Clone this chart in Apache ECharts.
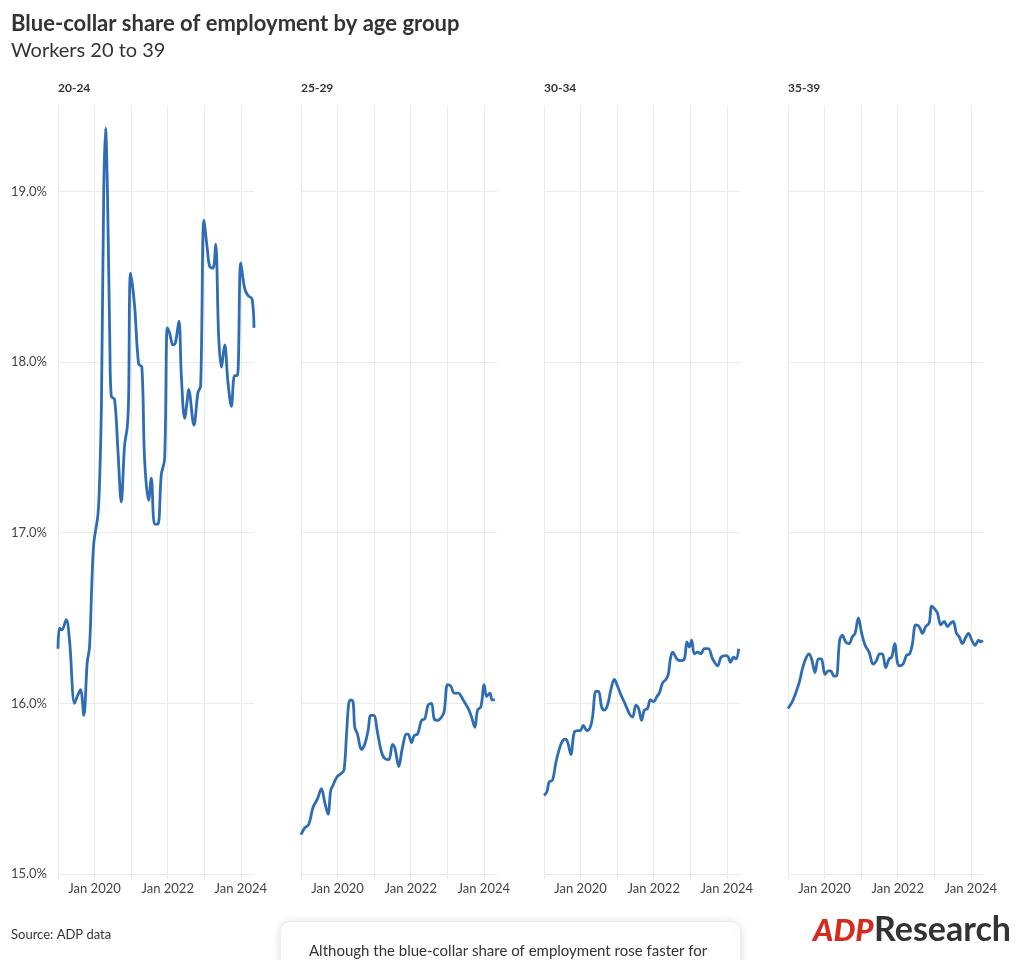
<!DOCTYPE html>
<html>
<head>
<meta charset="utf-8">
<script src="https://cdn.jsdelivr.net/npm/echarts@6/dist/echarts.min.js"></script>
<style>
html,body{margin:0;padding:0;background:#fff;}
#chart{width:1020px;height:960px;}
</style>
</head>
<body>
<div id="chart"></div>
<script>
// ---------- DATA ----------
const panelNames = ['20-24', '25-29', '30-34', '35-39'];
const xTickLabels = ['Jan 2020', 'Jan 2022', 'Jan 2024'];
const yTickValues = [15, 16, 17, 18, 19];

const dates20_24 = ['2019-01-01','2019-01-16','2019-02-08','2019-03-24','2019-04-26','2019-06-15','2019-07-12','2019-08-14','2019-09-16','2019-10-20','2019-11-12','2019-12-05','2019-12-25','2020-02-03','2020-02-20','2020-03-10','2020-04-02','2020-04-20','2020-05-09','2020-06-02','2020-06-16','2020-07-19','2020-08-21','2020-09-24','2020-10-27','2020-11-23','2020-12-06','2020-12-26','2021-02-04','2021-03-16','2021-04-18','2021-05-15','2021-06-24','2021-07-21','2021-08-23','2021-09-25','2021-10-29','2021-12-01','2021-12-28','2022-01-20','2022-02-22','2022-03-18','2022-04-23','2022-05-17','2022-06-19','2022-07-16','2022-07-29','2022-09-20','2022-10-30','2022-11-26','2022-12-29','2023-02-01','2023-02-24','2023-03-29','2023-04-25','2023-05-25','2023-06-21','2023-07-24','2023-08-26','2023-09-29','2023-10-31','2023-11-28','2024-01-01','2024-02-09','2024-03-13','2024-04-22','2024-05-12'];
const values20_24 = [16.32,16.44,16.43,16.49,16.37,16.00,16.04,16.08,15.93,16.24,16.33,16.70,16.94,17.10,17.29,17.76,19.00,19.37,19.00,18.10,17.80,17.78,17.49,17.18,17.51,17.62,17.78,18.52,18.33,17.99,17.97,17.43,17.19,17.32,17.05,17.05,17.34,17.43,18.20,18.17,18.10,18.11,18.24,17.92,17.67,17.78,17.84,17.63,17.82,17.86,18.83,18.66,18.56,18.55,18.69,18.15,17.97,18.10,17.88,17.74,17.92,17.92,18.58,18.43,18.39,18.37,18.20];

const dates25_29 = ['2019-01-01','2019-02-07','2019-03-19','2019-05-01','2019-06-14','2019-07-24','2019-08-26','2019-09-28','2019-10-25','2019-11-17','2019-12-27','2020-02-09','2020-03-06','2020-03-30','2020-04-22','2020-05-12','2020-06-04','2020-06-21','2020-07-18','2020-08-27','2020-09-29','2020-11-01','2020-11-28','2020-12-28','2021-02-03','2021-03-08','2021-04-10','2021-05-27','2021-07-03','2021-07-26','2021-09-04','2021-10-07','2021-11-20','2021-12-06','2022-01-09','2022-02-04','2022-03-10','2022-04-19','2022-05-22','2022-06-24','2022-07-28','2022-08-23','2022-09-26','2022-11-05','2022-12-01','2023-01-04','2023-02-06','2023-03-11','2023-04-20','2023-06-09','2023-07-29','2023-09-01','2023-10-04','2023-10-31','2023-12-03','2024-01-05','2024-01-29','2024-03-02','2024-03-25','2024-04-21'];
const values25_29 = [15.23,15.27,15.29,15.39,15.44,15.50,15.42,15.35,15.49,15.52,15.57,15.59,15.61,15.81,16.00,16.02,16.01,15.86,15.82,15.73,15.76,15.84,15.93,15.93,15.83,15.73,15.68,15.67,15.76,15.74,15.63,15.73,15.82,15.82,15.77,15.81,15.82,15.90,15.91,15.99,16.00,15.91,15.90,15.92,15.95,16.11,16.10,16.06,16.06,16.02,15.97,15.92,15.86,15.96,15.98,16.11,16.04,16.06,16.02,16.02];

const dates30_34 = ['2019-01-01','2019-01-29','2019-02-22','2019-03-27','2019-04-29','2019-06-02','2019-07-05','2019-08-07','2019-08-31','2019-09-26','2019-10-30','2019-12-02','2019-12-29','2020-01-28','2020-03-04','2020-04-07','2020-04-30','2020-06-02','2020-06-29','2020-07-29','2020-08-25','2020-09-27','2020-10-30','2020-12-03','2021-01-05','2021-02-07','2021-03-19','2021-05-02','2021-06-04','2021-07-07','2021-08-03','2021-09-02','2021-09-29','2021-11-01','2021-11-28','2021-12-31','2022-02-02','2022-02-26','2022-03-31','2022-05-03','2022-05-27','2022-06-16','2022-07-09','2022-08-21','2022-09-24','2022-11-03','2022-11-29','2022-12-23','2023-01-15','2023-02-11','2023-03-16','2023-04-18','2023-05-22','2023-07-01','2023-08-13','2023-10-02','2023-11-04','2023-12-24','2024-01-17','2024-02-06','2024-03-10','2024-04-02','2024-04-29'];
const values30_34 = [15.46,15.48,15.54,15.55,15.65,15.73,15.78,15.79,15.76,15.70,15.83,15.84,15.84,15.87,15.84,15.86,15.92,16.07,16.07,15.98,15.96,15.99,16.08,16.14,16.10,16.05,16.00,15.94,15.92,15.99,15.97,15.90,15.96,15.97,16.02,16.01,16.04,16.06,16.12,16.14,16.17,16.26,16.30,16.26,16.25,16.26,16.36,16.33,16.37,16.29,16.30,16.29,16.32,16.32,16.26,16.22,16.27,16.28,16.27,16.24,16.27,16.26,16.32];

const dates35_39 = ['2019-01-01','2019-02-13','2019-03-25','2019-04-27','2019-05-24','2019-06-26','2019-07-30','2019-08-25','2019-09-28','2019-10-31','2019-11-30','2020-01-06','2020-02-08','2020-03-02','2020-04-05','2020-04-28','2020-05-31','2020-06-27','2020-07-30','2020-09-02','2020-10-05','2020-11-01','2020-12-04','2021-01-06','2021-02-09','2021-03-21','2021-04-30','2021-06-02','2021-07-05','2021-08-01','2021-09-03','2021-10-07','2021-11-02','2021-12-02','2021-12-29','2022-01-21','2022-02-24','2022-03-29','2022-05-01','2022-05-28','2022-06-30','2022-08-03','2022-09-05','2022-10-08','2022-11-11','2022-12-07','2023-01-10','2023-02-02','2023-03-07','2023-04-10','2023-05-13','2023-06-15','2023-07-09','2023-08-11','2023-09-07','2023-10-10','2023-11-06','2023-12-09','2024-01-11','2024-02-14','2024-03-18','2024-04-10','2024-04-29'];
const values35_39 = [15.97,16.01,16.07,16.13,16.20,16.26,16.29,16.26,16.18,16.26,16.26,16.17,16.19,16.19,16.16,16.16,16.37,16.40,16.36,16.35,16.39,16.41,16.50,16.41,16.34,16.30,16.23,16.25,16.29,16.29,16.21,16.26,16.27,16.35,16.24,16.22,16.23,16.28,16.29,16.35,16.46,16.45,16.41,16.45,16.47,16.57,16.55,16.53,16.46,16.48,16.45,16.47,16.48,16.41,16.39,16.35,16.38,16.41,16.37,16.34,16.37,16.36,16.37];

const xMin = '2019-01-01';
const xMax = '2024-05-12';
const yMin = 15, yMax = 19.5;

// ---------- BUILD ----------
const allDates = [dates20_24, dates25_29, dates30_34, dates35_39];
const allValues = [values20_24, values25_29, values30_34, values35_39];

const FONT = 'Lato';
const lefts = [58, 301, 544, 788];
const gridW = 196;
const gridTop = 106, gridBottomY = 874;
const YEAR = 365 * 24 * 3600 * 1000;

const grids = [], xAxes = [], yAxes = [], series = [], titles = [];

titles.push({
  text: 'Blue-collar share of employment by age group',
  left: 6, top: 8,
  textStyle: {fontFamily: FONT, fontSize: 22, fontWeight: 'bold', color: '#333'}
});
titles.push({
  text: 'Workers 20 to 39',
  left: 6, top: 36,
  textStyle: {fontFamily: FONT, fontSize: 20, fontWeight: 'normal', color: '#333'}
});
titles.push({
  text: 'Source: ADP data',
  left: 6, top: 923,
  textStyle: {fontFamily: FONT, fontSize: 13, fontWeight: 'normal', color: '#333'}
});

for (let i = 0; i < 4; i++) {
  grids.push({left: lefts[i], width: gridW, top: gridTop, height: gridBottomY - gridTop, containLabel: false});
  titles.push({
    text: panelNames[i], left: lefts[i] - 5, top: 77,
    textStyle: {fontFamily: FONT, fontSize: 12, fontWeight: 'bold', color: '#333'}
  });
  xAxes.push({
    type: 'time', gridIndex: i, min: xMin, max: xMax,
    minInterval: YEAR, maxInterval: YEAR + 2 * 24 * 3600 * 1000,
    axisLine: {show: false},
    axisTick: {show: true, length: 5, lineStyle: {color: '#e8e8e8'}},
    splitLine: {show: true, showMaxLine: false, lineStyle: {color: '#ebebeb', width: 1}},
    axisLabel: {
      show: true, margin: 8, fontFamily: FONT, fontSize: 13, color: '#444',
      hideOverlap: false, showMaxLabel: false,
      formatter: function (value) {
        const d = new Date(value);
        if (d.getMonth() === 0 && d.getDate() === 1) {
          const lbl = 'Jan ' + d.getFullYear();
          return xTickLabels.indexOf(lbl) >= 0 ? lbl : '';
        }
        return '';
      }
    }
  });
  yAxes.push({
    type: 'value', gridIndex: i, min: yMin, max: yMax, interval: 1,
    axisLine: {show: false}, axisTick: {show: false},
    splitLine: {show: true, showMaxLine: false, lineStyle: {color: '#ebebeb', width: 1}},
    axisLabel: {
      show: i === 0, showMaxLabel: false, margin: 11, fontFamily: FONT, fontSize: 13, color: '#444',
      formatter: function (v) { return yTickValues.indexOf(v) >= 0 ? v.toFixed(1) + '%' : ''; }
    }
  });
  series.push({
    type: 'line', xAxisIndex: i, yAxisIndex: i,
    data: allDates[i].map((d, k) => [d, allValues[i][k]]),
    showSymbol: false, smooth: 0.35,
    lineStyle: {color: '#2e6db4', width: 2.8},
    itemStyle: {color: '#2e6db4'},
    clip: true, animation: false
  });
}

const option = {
  backgroundColor: '#ffffff',
  animation: false,
  title: titles,
  grid: grids,
  xAxis: xAxes,
  yAxis: yAxes,
  series: series,
  graphic: [
    {
      type: 'rect', left: 280, top: 921, z: 10,
      shape: {width: 460, height: 60, r: 9},
      style: {fill: '#fff', stroke: '#eeeeee', lineWidth: 1, shadowBlur: 10, shadowColor: 'rgba(0,0,0,0.12)', shadowOffsetY: 1}
    },
    {
      type: 'text', left: 309, top: 944, z: 11,
      style: {text: 'Although the blue-collar share of employment rose faster for', fontFamily: FONT, fontSize: 15, fill: '#333'}
    },
    {
      type: 'text', left: 813, top: 915, z: 11,
      style: {text: 'ADP', fontFamily: FONT, fontSize: 31, fontWeight: 900, fontStyle: 'italic', fill: '#d42b1e'}
    },
    {
      type: 'text', left: 874, top: 913, z: 11,
      style: {text: 'Research', fontFamily: FONT, fontSize: 34, fontWeight: 'bold', fill: '#333'}
    }
  ]
};

const chart = echarts.init(document.getElementById('chart'), null, {renderer: 'canvas'});
chart.setOption(option);
</script>
</body>
</html>
